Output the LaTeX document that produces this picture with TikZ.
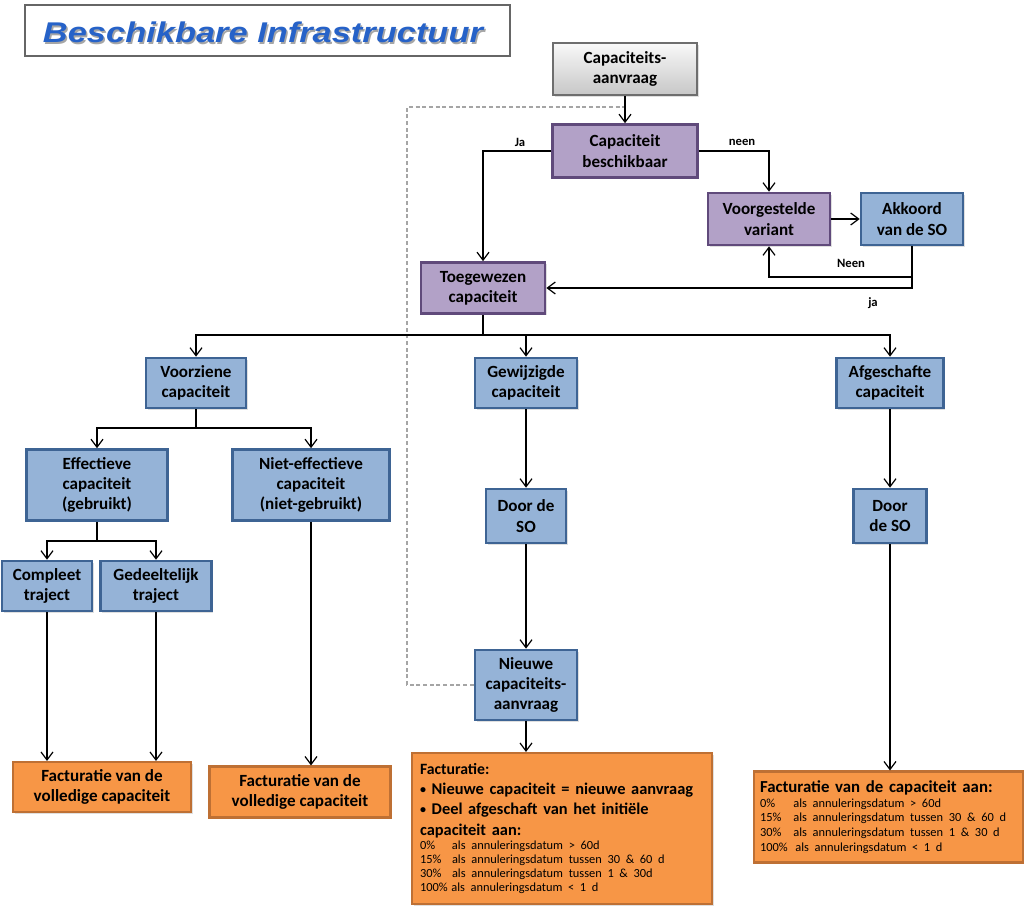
\documentclass[tikz,border=0pt]{standalone}
\usepackage{fontspec}
\usepackage{graphicx}
\setmainfont{Carlito}
\newfontfamily\titlefont{Liberation Sans}
\usetikzlibrary{arrows.meta,shadows,calc}
\definecolor{bluefill}{RGB}{149,179,215}
\definecolor{blueline}{RGB}{62,100,148}
\definecolor{purplefill}{RGB}{178,161,199}
\definecolor{purpleline}{RGB}{96,74,123}
\definecolor{orangefill}{RGB}{247,150,70}
\definecolor{orangeline}{RGB}{190,112,52}
\definecolor{grayline}{RGB}{110,110,110}
\definecolor{titleblue}{RGB}{38,98,200}
\definecolor{dashgray}{RGB}{165,165,165}
\tikzset{
  wh/.style 2 args={minimum width=#1*0.75pt, minimum height=#2*0.75pt},
  basebox/.style={draw, line width=2pt, align=center, inner sep=0pt,
    font=\bfseries\fontsize{12.8}{15.2}\selectfont,
    drop shadow={shadow xshift=1.2pt, shadow yshift=-1.2pt, opacity=0.25}},
  bluebox/.style={basebox, fill=bluefill, draw=blueline},
  purplebox/.style={basebox, fill=purplefill, draw=purpleline},
  graybox/.style={basebox, line width=1.4pt, draw=grayline, top color=white!95!gray, bottom color=black!22},
  orangebox/.style={basebox, line width=1.6pt, fill=orangefill, draw=orangeline},
  arr/.style={line width=1pt, -{Straight Barb[length=6pt,width=9pt,line width=0.9pt]}},
  plain/.style={line width=1pt},
  dashline/.style={dashgray, line width=0.9pt, dash pattern=on 3pt off 2pt},
  lbl/.style={font=\bfseries\fontsize{9.5}{11}\selectfont, inner sep=0pt},
}
\newcommand\pct[1]{\makebox[24pt][l]{#1}}
\newcommand\bul{\raisebox{0.5pt}{\fontsize{9}{9}\selectfont•}\ }
\begin{document}
\begin{tikzpicture}[x=0.75pt,y=-0.75pt]
\useasboundingbox (0,0) rectangle (1024,906);
\fill[white] (0,0) rectangle (1024,906);

% title
\node[draw=black!60, line width=0.8pt, wh={485}{51}, inner sep=0pt] (titlebox) at (267.5,30.5) {};
\node[text=black!35, inner sep=0pt] (titleshadow) at (264.5,34.5)
  {\resizebox{330pt}{15.5pt}{\titlefont\bfseries\itshape Beschikbare Infrastructuur}};
\node[text=titleblue, inner sep=0pt] (title) at (263,32.5)
  {\resizebox{330pt}{15.5pt}{\titlefont\bfseries\itshape Beschikbare Infrastructuur}};

% nodes
\node[graybox, wh={144}{52}] (aanvraag) at (625,69) {Capaciteits-\\aanvraag};
\node[purplebox, wh={145}{53}] (besch) at (625,151) {Capaciteit\\beschikbaar};
\node[purplebox, wh={122}{52}] (voorg) at (769,219) {Voorgestelde\\variant};
\node[bluebox, wh={102}{52}] (akk) at (912,219) {Akkoord\\van de SO};
\node[purplebox, wh={124}{51}] (toe) at (483,288) {Toegewezen\\capaciteit};
\node[bluebox, wh={100}{50}] (vz) at (196,383) {Voorziene\\capaciteit};
\node[bluebox, wh={102}{50}] (gew) at (526,383) {Gewijzigde\\capaciteit};
\node[bluebox, wh={107}{50}] (afg) at (890,383) {Afgeschafte\\capaciteit};
\node[bluebox, wh={141}{71}] (eff) at (97,485) {Effectieve\\capaciteit\\(gebruikt)};
\node[bluebox, wh={157}{71}] (neff) at (311,485) {Niet-effectieve\\capaciteit\\(niet-gebruikt)};
\node[bluebox, wh={80}{54}] (dso1) at (526,516) {Door de\\SO};
\node[bluebox, wh={73}{54}] (dso2) at (890,516) {Door\\de SO};
\node[bluebox, wh={90}{50}] (comp) at (47,586) {Compleet\\traject};
\node[bluebox, wh={111}{50}] (gedl) at (156,586) {Gedeeltelijk\\traject};
\node[bluebox, wh={102}{70}] (nw) at (526,685) {Nieuwe\\capaciteits-\\aanvraag};
\node[orangebox, wh={178}{50}] (f1) at (102,787) {Facturatie van de\\volledige capaciteit};
\node[orangebox, wh={181}{51}] (f2) at (300,792) {Facturatie van de\\volledige capaciteit};
\node[orangebox, wh={300}{151}, align=left, text width=284*0.75pt] (fm) at (562,828.5) {%
  {\fontsize{11.8}{14.5}\selectfont Facturatie:\par}
  {\fontsize{12.3}{15}\selectfont \bul Nieuwe capaciteit = nieuwe aanvraag\par
   \bul Deel afgeschaft van het initiële\par}
  {\fontsize{12.3}{16}\selectfont capaciteit aan:\par}
  {\mdseries\fontsize{9.3}{10.6}\selectfont
   \pct{0\%}als annuleringsdatum > 60d\par
   \pct{15\%}als annuleringsdatum tussen 30 \& 60 d\par
   \pct{30\%}als annuleringsdatum tussen 1 \& 30d\par
   \makebox[23.5pt][l]{100\%}als annuleringsdatum < 1 d\par}};
\node[orangebox, wh={269}{91}, align=left, text width=257*0.75pt] (fr) at (888.5,817) {%
  {\fontsize{12.6}{14}\selectfont Facturatie van de capaciteit aan:\par}
  {\mdseries\fontsize{9.3}{11}\selectfont
   \makebox[25pt][l]{0\%}als annuleringsdatum > 60d\par
   \makebox[25pt][l]{15\%}als annuleringsdatum tussen 30 \& 60 d\par
   \makebox[25pt][l]{30\%}als annuleringsdatum tussen 1 \& 30 d\par
   \makebox[26.5pt][l]{100\%}als annuleringsdatum < 1 d\par}};

% dashed feedback line
\coordinate (dA) at (407,107);
\coordinate (dB) at (625,107);
\draw[dashline] (nw.west) -| (dA) -- (dB);

% connectors top
\draw[arr] (aanvraag.south) -- (besch.north);
\draw[arr] (besch.west) -| (toe.north);
\draw[arr] (besch.east) -| (voorg.north);
\draw[arr] (voorg.east) -- (akk.west);
\draw[arr] (akk.south) |- (toe.east);
\coordinate (nn) at (912,277);
\draw[arr] (nn) -| (voorg.south);

\node[lbl] (lja) at (520,142) {Ja};
\node[lbl] (lneen) at (742,142) {neen};
\node[lbl] (lNeen) at (851,263) {Neen};
\node[lbl] (lja2) at (873,303) {ja};

% tree
\coordinate (bus1) at (483,335);
\draw[plain] (toe.south) -- (bus1);
\draw[arr] (bus1) -| (vz.north);
\draw[arr] (bus1) -| (gew.north);
\draw[arr] (bus1) -| (afg.north);

\coordinate (bus2) at (196,428);
\draw[plain] (vz.south) -- (bus2);
\draw[arr] (bus2) -| (eff.north);
\draw[arr] (bus2) -| (neff.north);

\coordinate (bus3) at (97,541);
\draw[plain] (eff.south) -- (bus3);
\draw[arr] (bus3) -| (comp.north);
\draw[arr] (bus3) -| (gedl.north);

\draw[arr] (comp.south) -- (comp.south |- f1.north);
\draw[arr] (gedl.south) -- (gedl.south |- f1.north);
\draw[arr] (neff.south) -- (neff.south |- f2.north);

\draw[arr] (gew.south) -- (dso1.north);
\draw[arr] (dso1.south) -- (nw.north);
\draw[arr] (nw.south) -- (nw.south |- fm.north);

\draw[arr] (afg.south) -- (dso2.north);
\draw[arr] (dso2.south) -- (dso2.south |- fr.north);
\end{tikzpicture}
\end{document}
